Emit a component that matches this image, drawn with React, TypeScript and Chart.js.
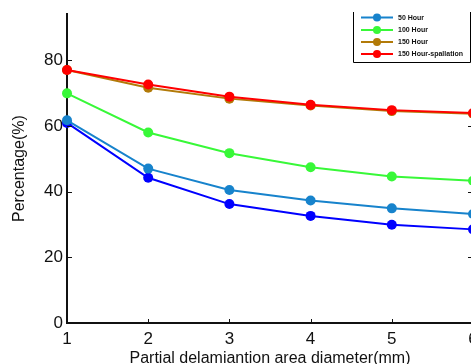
import React, { useEffect, useRef } from "react";
import { Chart, registerables } from "chart.js";

Chart.register(...registerables);

const diameters = ["1", "2", "3", "4", "5", "6"];
const yTicks = [0, 20, 40, 60, 80];
const hour50 = [61.7, 47.0, 40.5, 37.3, 34.9, 33.2];
const hour100 = [69.9, 58.0, 51.7, 47.4, 44.6, 43.3];
const hour150 = [77.0, 71.6, 68.3, 66.2, 64.5, 63.7];
const hour150Spall = [77.0, 72.6, 68.9, 66.4, 64.8, 63.9];
const baseline = [60.9, 44.2, 36.2, 32.6, 29.9, 28.5];

const C_LB = "#1783cc";
const C_GR = "#38f838";
const C_BR = "#b27a08";
const C_RD = "#ff0000";
const C_DB = "#0000ff";

const legendItems = [
  { label: "50 Hour", color: C_LB },
  { label: "100 Hour", color: C_GR },
  { label: "150 Hour", color: C_BR },
  { label: "150 Hour-spallation", color: C_RD },
];

const tickPlugin = {
  id: "inwardTicks",
  afterDatasetsDraw(chart: any) {
    const { ctx, chartArea, scales } = chart;
    ctx.save();
    ctx.strokeStyle = "#111";
    ctx.lineWidth = 1;
    const y = scales.y;
    const x = scales.x;
    yTicks.forEach((v) => {
      const py = Math.round(y.getPixelForValue(v)) + 0.5;
      ctx.beginPath();
      ctx.moveTo(chartArea.left, py);
      ctx.lineTo(chartArea.left + 5, py);
      ctx.moveTo(chartArea.right, py);
      ctx.lineTo(chartArea.right - 5, py);
      ctx.stroke();
    });
    diameters.forEach((_, i) => {
      const px = Math.round(x.getPixelForValue(i)) + 0.5;
      ctx.beginPath();
      ctx.moveTo(px, chartArea.bottom);
      ctx.lineTo(px, chartArea.bottom - 4);
      ctx.stroke();
    });
    ctx.restore();
  },
  afterDraw(chart: any) {
    const { ctx } = chart;
    ctx.save();
    const left = 353.5, right = 470.5, top = 12, bottom = 62.5;
    ctx.fillStyle = "#fff";
    ctx.fillRect(left, top, right - left, bottom - top);
    ctx.strokeStyle = "#000";
    ctx.lineWidth = 1;
    ctx.beginPath();
    ctx.moveTo(left, top);
    ctx.lineTo(left, bottom);
    ctx.lineTo(right, bottom);
    ctx.lineTo(right, top);
    ctx.stroke();
    const rows = [17.5, 30, 42, 54];
    ctx.font = "bold 7px 'Liberation Sans', Arial, sans-serif";
    ctx.textBaseline = "middle";
    legendItems.forEach((it, i) => {
      const yy = rows[i];
      ctx.strokeStyle = it.color;
      ctx.lineWidth = 2;
      ctx.beginPath();
      ctx.moveTo(361, yy);
      ctx.lineTo(393, yy);
      ctx.stroke();
      ctx.fillStyle = it.color;
      ctx.beginPath();
      ctx.arc(377, yy, 4, 0, Math.PI * 2);
      ctx.fill();
      ctx.fillStyle = "#111";
      ctx.fillText(it.label, 398, yy + 0.5);
    });
    ctx.restore();
  },
};

export default function App() {
  const ref = useRef<HTMLCanvasElement>(null);
  useEffect(() => {
    if (!ref.current) return;
    const mk = (label: string, data: number[], color: string, order: number) => ({
      label,
      data,
      borderColor: color,
      backgroundColor: color,
      pointBackgroundColor: color,
      pointBorderColor: color,
      borderWidth: 2,
      pointRadius: 5,
      pointBorderWidth: 0,
      tension: 0,
      order,
    });
    const chart = new Chart(ref.current, {
      type: "line",
      data: {
        labels: diameters,
        datasets: [
          mk("150 Hour-spallation", hour150Spall, C_RD, 0),
          mk("150 Hour", hour150, C_BR, 1),
          mk("100 Hour", hour100, C_GR, 2),
          mk("50 Hour", hour50, C_LB, 3),
          mk("", baseline, C_DB, 4),
        ],
      },
      options: {
        responsive: false,
        animation: false,
        events: [],
        layout: { padding: { top: 12, right: 17, left: 0, bottom: 0 } },
        plugins: { legend: { display: false }, tooltip: { enabled: false } },
        scales: {
          x: {
            type: "category",
            offset: false,
            grid: { drawOnChartArea: false, drawTicks: false },
            border: { display: true, color: "#111", width: 2 },
            ticks: {
              color: "#111",
              padding: 6,
              maxRotation: 0,
              autoSkip: false,
              font: { family: "'Liberation Sans', Arial, sans-serif", size: 17 },
            },
            title: {
              display: true,
              text: "Partial delamiantion area diameter(mm)",
              color: "#111",
              padding: { top: 0, bottom: -4 },
              font: { family: "'Liberation Sans', Arial, sans-serif", size: 16 },
            },
            afterFit: (s: any) => {
              s.height = 41;
            },
          },
          y: {
            type: "linear",
            min: 0,
            max: 94,
            grid: { drawOnChartArea: false, drawTicks: false },
            border: { display: true, color: "#111", width: 2 },
            ticks: {
              stepSize: 20,
              color: "#111",
              padding: 4,
              font: { family: "'Liberation Sans', Arial, sans-serif", size: 17 },
            },
            afterBuildTicks: (s: any) => {
              s.ticks = yTicks.map((v) => ({ value: v }));
            },
            title: {
              display: true,
              text: "Percentage(%)",
              color: "#111",
              padding: { top: 10, bottom: 0 },
              font: { family: "'Liberation Sans', Arial, sans-serif", size: 16 },
            },
            afterFit: (s: any) => {
              s.width = 67;
            },
          },
        },
      },
      plugins: [tickPlugin],
    } as any);
    return () => chart.destroy();
  }, []);
  return (
    <div
      style={{
        position: "fixed",
        left: 0,
        top: 0,
        width: 471,
        height: 364,
        overflow: "hidden",
        background: "#fff",
      }}
    >
      <canvas ref={ref} width={490} height={364} style={{ width: 490, height: 364, display: "block" }} />
    </div>
  );
}
